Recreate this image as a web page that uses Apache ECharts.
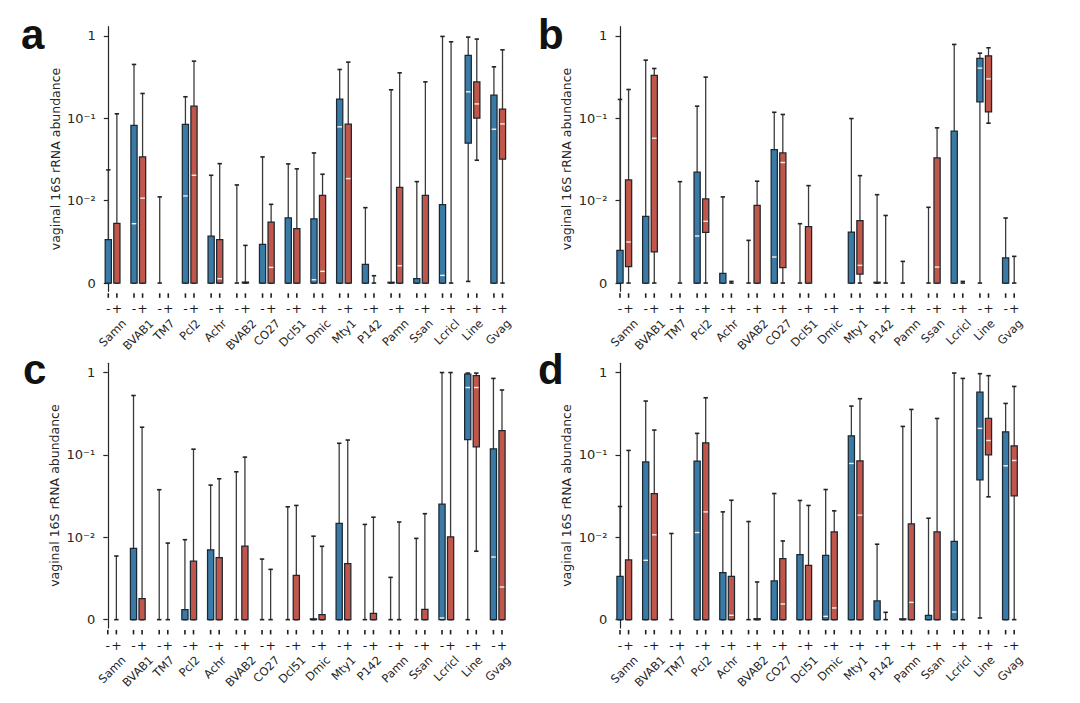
<!DOCTYPE html>
<html><head><meta charset="utf-8">
<script src="https://cdn.jsdelivr.net/npm/echarts@6/dist/echarts.min.js"></script>
<style>html,body{margin:0;padding:0;background:#fff}#c{width:1080px;height:703px}</style>
</head><body><div id="c"></div><script>
// ---------------- data ----------------
const categories = ['Samn','BVAB1','TM7','Pcl2','Achr','BVAB2','CO27','Dcl51','Dmic','Mty1','P142','Pamn','Ssan','Lcricl','Line','Gvag'];
const signLabels = ['-', '+'];
const yTickValues = [0, 0.01, 0.1, 1];
const yTickLabels = ['0', '10\u207B\u00B2', '10\u207B\u00B9', '1'];
const yAxisTitle = 'vaginal 16S rRNA abundance';
const panelLetters = ['a', 'b', 'c', 'd'];
// each entry: [min, q1, median, q3, max] (null = no data)
const panelA_minus = [
  [0,0,0,0.00526,0.0236],[0,0,0.0072,0.082,0.449],[0,0,0,0,0.0111],[0,0,0.0114,0.084,0.182],
  [0,0,0,0.0057,0.0203],[0,0,0,0,0.0155],[0,0,0,0.0047,0.0339],[0,0,0,0.0079,0.0279],
  [0,0,0.0004,0.0078,0.0379],[0,0,0.0785,0.170,0.390],[0,0,0,0.00227,0.00915],[0,0,0,0.0001,0.221],
  [0,0,0,0.00053,0.0170],[0,0,0.00093,0.0095,0.982],[0.0002,0.0497,0.209,0.577,0.964],[0,0,0.0735,0.190,0.420]
];
const panelA_plus = [
  [0,0,0,0.00725,0.113],[0,0,0.0107,0.0339,0.1995],null,[0,0,0.0203,0.140,0.492],
  [0,0,0.00053,0.00526,0.0281],[0,0,0,0.00012,0.00457],[0,0,0.0019,0.0074,0.00955],[0,0,0,0.0066,0.0243],
  [0,0,0.00142,0.0116,0.0209],[0,0,0.0185,0.0845,0.479],[0,0,0,0,0.00089],[0,0,0.0021,0.0145,0.355],
  [0,0,0,0.0116,0.276],[0,0,0,0,0.845],[0.0309,0.100,0.149,0.276,0.912],[0,0.0318,0.0853,0.1285,0.675]
];
const panelB_minus = [
  [0,0,0,0.00397,0.169],[0,0,0,0.0081,0.506],null,[0,0,0.00571,0.0221,0.140],
  [0,0,0,0.00117,0.0111],[0,0,0,0,0.00518],[0,0,0.00316,0.0416,0.118],[0,0,0,0,0.0072],
  null,[0,0,0,0.00619,0.099],[0,0,0,0.0001,0.0118],[0,0,0,0,0.00263],
  [0,0,0,0,0.00919],[0,0,0,0.0695,0.785],[0,0.158,0.405,0.531,0.615],[0,0,0,0.00304,0.00789]
];
const panelB_plus = [
  [0,0.00198,0.00498,0.0178,0.223],[0,0.00377,0.0571,0.330,0.401],[0,0,0,0,0.0170],[0,0.00615,0.00749,0.01047,0.315],
  [0,0,0,0,0.0002],[0,0,0,0.00943,0.0172],[0,0.00186,0.029,0.0379,0.111],[0,0,0,0.00684,0.0152],
  null,[0,0.00109,0.00215,0.00757,0.0201],[0,0,0,0,0.0082],null,
  [0,0,0.00194,0.033,0.0764],[0,0,0,0,0.0002],[0.087,0.119,0.30,0.571,0.715],[0,0,0,0,0.00324]
];
const panelC_minus = [
  null,[0,0,0,0.00865,0.524],[0,0,0,0,0.0377],[0,0,0,0.00121,0.0097],
  [0,0,0,0.00848,0.0429],[0,0,0,0,0.0622],[0,0,0,0,0.00735],[0,0,0,0,0.0234],
  [0,0,0,0.0001,0.0103],[0,0,0,0.0147,0.138],[0,0,0,0,0.0143],[0,0,0,0,0.00513],
  [0,0,0,0,0.00986],[0,0,0.0002,0.0252,0.995],[0,0.153,0.655,0.95,0.98],[0,0,0.0076,0.118,0.845]
];
const panelC_plus = [
  [0,0,0,0,0.00772],[0,0,0,0.00255,0.216],[0,0,0,0,0.00929],[0,0,0,0.00711,0.117],
  [0,0,0,0.00752,0.0512],[0,0,0,0.00893,0.0937],[0,0,0,0,0.0061],[0,0,0,0.00537,0.0243],
  [0,0,0,0.00061,0.0089],[0,0,0,0.0068,0.151],[0,0,0,0.00077,0.0175],[0,0,0,0,0.0153],
  [0,0,0,0.00125,0.0193],[0,0,0,0.0101,0.995],[0.0083,0.125,0.655,0.916,0.98],[0,0,0.00396,0.196,0.611]
];
// panel d repeats panel a
const panelD_minus = panelA_minus;
const panelD_plus = panelA_plus;

// ---------------- chart ----------------
const FONT = '"DejaVu Sans", sans-serif';
const LINTHRESH = 0.01;
function symlog(v){ return v <= LINTHRESH ? v / LINTHRESH : 1 + Math.log10(v / LINTHRESH); }

const panelData = [[panelA_minus, panelA_plus],[panelB_minus, panelB_plus],[panelC_minus, panelC_plus],[panelD_minus, panelD_plus]];
const layout = [
  {left:101.7, top:26.7, lx:21, ly:13}, {left:613.4, top:26.7, lx:538, ly:13},
  {left:101.2, top:363.3, lx:23, ly:348}, {left:613.4, top:363.3, lx:538, ly:348}
];
const GW = 407.4, GH = 264.6;
const XMIN = -0.77, XMAX = 46.77, YMIN = -0.1, YMAX = 3.11;
const colors = ['#3a7aa6', '#c1574a'];

const tickPos = [];
categories.forEach((c,i)=>{ tickPos.push(3*i, 3*i+1); });
const yTickT = yTickValues.map(symlog);

const mctx = document.createElement('canvas').getContext('2d');
const NAME_SIZE = 11.5;
mctx.font = NAME_SIZE + 'px "DejaVu Sans"';

function boxRenderer(color){
  return function(params, api){
    const x = api.value(0);
    const c = v => api.coord([x, v]);
    const pMin = c(api.value(1)), pQ1 = c(api.value(2)), pMed = c(api.value(3)), pQ3 = c(api.value(4)), pMax = c(api.value(5));
    const cx = pMin[0], bw = 6.2, cw = 2.2;
    const wl = {stroke:'#3a3a3a', lineWidth:1.3};
    const ch = [
      {type:'line', shape:{x1:cx, y1:pMin[1], x2:cx, y2:pMax[1]}, style:wl},
      {type:'line', shape:{x1:cx-cw, y1:pMax[1], x2:cx+cw, y2:pMax[1]}, style:{stroke:'#222', lineWidth:1.6}},
      {type:'line', shape:{x1:cx-cw, y1:pMin[1], x2:cx+cw, y2:pMin[1]}, style:{stroke:'#222', lineWidth:1.6}}
    ];
    if (api.value(4) > 0) {
      ch.push({type:'rect', shape:{x:cx-bw/2, y:pQ3[1], width:bw, height:Math.max(pQ1[1]-pQ3[1], 0.8)},
        style:{fill:color, stroke:'#1d2731', lineWidth:1.25}});
      if (api.value(3) > api.value(2)) {
        ch.push({type:'line', shape:{x1:cx-bw/2+0.8, y1:pMed[1], x2:cx+bw/2-0.8, y2:pMed[1]}, style:{stroke:'#f4f1ee', lineWidth:1.4}});
      }
    }
    return {type:'group', children:ch};
  };
}

// category names (rotated, bbox-centred under each pair) and the pair's tick marks
function nameRenderer(params, api){
  const i = api.value(0);
  const p0 = api.coord([3*i, YMIN]), p1 = api.coord([3*i+1, YMIN]);
  const cx = (p0[0] + p1[0]) / 2;
  const name = categories[i];
  const w = mctx.measureText(name).width, h = NAME_SIZE;
  const top = p0[1] + 26;
  const tk = {stroke:'#1e1e1e', lineWidth:1.6};
  return {type:'group', children:[
    {type:'line', shape:{x1:p0[0], y1:p0[1]+2, x2:p0[0], y2:p0[1]+6.5}, style:tk},
    {type:'line', shape:{x1:p1[0], y1:p1[1]+2, x2:p1[0], y2:p1[1]+6.5}, style:tk},
    {type:'text', x: cx, y: top + 0.3536*(w+h), rotation: Math.PI/4,
      style:{text:name, align:'center', verticalAlign:'middle', fontSize:NAME_SIZE, fontFamily:FONT, fill:'#262626'}}
  ]};
}

const grids = [], xAxes = [], yAxes = [], series = [], graphics = [];
layout.forEach((L, p) => {
  grids.push({left:L.left, top:L.top, width:GW, height:GH, containLabel:false});
  xAxes.push({type:'value', gridIndex:p, min:XMIN, max:XMAX,
    axisLine:{show:false}, splitLine:{show:false}, axisTick:{show:false},
    axisLabel:{show:true, customValues:tickPos, margin:11, fontSize:12.5, fontFamily:FONT, color:'#1a1a1a',
      formatter: v => signLabels[Math.round(v) % 3]}});
  yAxes.push({type:'value', gridIndex:p, min:YMIN, max:YMAX,
    axisLine:{show:true, lineStyle:{color:'#262626', width:1.2}}, splitLine:{show:false},
    axisTick:{show:true, customValues:yTickT, length:4.5, lineStyle:{color:'#262626', width:1.2}},
    axisLabel:{show:true, customValues:yTickT, margin:6, fontSize:13, fontFamily:FONT, color:'#262626',
      formatter: v => { const k = yTickT.findIndex(t => Math.abs(t - v) < 1e-6); return k >= 0 ? yTickLabels[k] : ''; }},
    name: yAxisTitle, nameLocation:'middle', nameGap:40, nameRotate:90,
    nameTextStyle:{fontSize:12.5, fontFamily:FONT, color:'#262626'}});
  panelData[p].forEach((stats, s) => {
    const rows = [];
    stats.forEach((st, i) => { if (st) rows.push([3*i + s].concat(st.map(symlog))); });
    series.push({type:'custom', name: signLabels[s], xAxisIndex:p, yAxisIndex:p, clip:false,
      encode:{x:0, y:[1,2,3,4,5]}, data: rows, renderItem: boxRenderer(colors[s]), silent:true, animation:false});
  });
  series.push({type:'custom', xAxisIndex:p, yAxisIndex:p, clip:false, encode:{x:0, y:1},
    data: categories.map((c, i) => [i, 0]), renderItem: nameRenderer, silent:true, animation:false});
  graphics.push({type:'text', left: L.lx, top: L.ly,
    style:{text: panelLetters[p], font: 'bold 42px "Liberation Sans", Arial, sans-serif', fill:'#111'}});
});

const chart = echarts.init(document.getElementById('c'), null, {renderer:'svg', width:1080, height:703});
chart.setOption({backgroundColor:'#fff', animation:false, grid:grids, xAxis:xAxes, yAxis:yAxes, series:series, graphic:graphics});
</script></body></html>
